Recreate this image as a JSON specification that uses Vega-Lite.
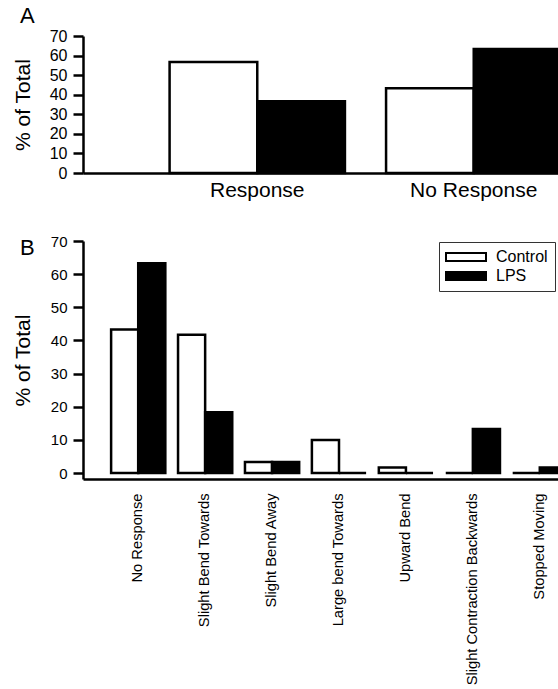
{
  "$schema": "https://vega.github.io/schema/vega-lite/v6.json",
  "background": "white",
  "padding": {"left": 12, "top": 5, "right": 0, "bottom": 0},
  "spacing": 34,
  "config": {
    "font": "Liberation Sans",
    "view": {"stroke": null},
    "axis": {
      "domainColor": "black",
      "domainWidth": 2.5,
      "tickColor": "black",
      "tickWidth": 2.5,
      "labelColor": "black",
      "titleColor": "black",
      "grid": false,
      "titleFontWeight": "normal"
    },
    "title": {"fontWeight": "normal", "color": "black"}
  },
  "resolve": {
    "scale": {"x": "independent", "xOffset": "independent", "y": "independent", "fill": "independent"},
    "axis": {"x": "independent", "y": "independent"},
    "legend": {"fill": "independent"}
  },
  "vconcat": [
    {
      "width": 565,
      "height": 137,
      "title": {"text": "A", "anchor": "start", "frame": "group", "dx": -63, "fontSize": 22, "offset": 0},
      "data": {
        "values": [
          {"outcome": "Response", "group": "Control", "pct": 56.7},
          {"outcome": "Response", "group": "LPS", "pct": 36.7},
          {"outcome": "No Response", "group": "Control", "pct": 43.3},
          {"outcome": "No Response", "group": "LPS", "pct": 63.3}
        ]
      },
      "mark": {"type": "bar", "stroke": "black", "strokeWidth": 2.5},
      "encoding": {
        "x": {
          "field": "outcome", "type": "nominal", "sort": ["Response", "No Response"],
          "scale": {"paddingInner": 0.19, "paddingOuter": 0.4},
          "axis": {"title": null, "labelAngle": 0, "ticks": false, "labelFontSize": 21, "labelPadding": 6}
        },
        "xOffset": {"field": "group", "type": "nominal", "sort": ["Control", "LPS"]},
        "y": {
          "field": "pct", "type": "quantitative",
          "scale": {"domain": [0, 70], "nice": false},
          "axis": {"values": [0, 10, 20, 30, 40, 50, 60, 70], "tickSize": 10, "labelFontSize": 16, "labelPadding": 6, "title": "% of Total", "titleFontSize": 21, "titleX": -50}
        },
        "fill": {
          "field": "group", "type": "nominal",
          "scale": {"domain": ["Control", "LPS"], "range": ["white", "black"]},
          "legend": null
        }
      }
    },
    {
      "width": 512,
      "height": 238,
      "title": {"text": "B", "anchor": "start", "frame": "group", "dx": -63, "dy": 26, "fontSize": 22, "offset": 0},
      "data": {
        "values": [
          {"behaviour": "No Response", "group": "Control", "pct": 43.3},
          {"behaviour": "No Response", "group": "LPS", "pct": 63.3},
          {"behaviour": "Slight Bend Towards", "group": "Control", "pct": 41.7},
          {"behaviour": "Slight Bend Towards", "group": "LPS", "pct": 18.3},
          {"behaviour": "Slight Bend Away", "group": "Control", "pct": 3.3},
          {"behaviour": "Slight Bend Away", "group": "LPS", "pct": 3.3},
          {"behaviour": "Large bend Towards", "group": "Control", "pct": 10.0},
          {"behaviour": "Large bend Towards", "group": "LPS", "pct": 0},
          {"behaviour": "Upward Bend", "group": "Control", "pct": 1.7},
          {"behaviour": "Upward Bend", "group": "LPS", "pct": 0},
          {"behaviour": "Slight Contraction Backwards", "group": "Control", "pct": 0},
          {"behaviour": "Slight Contraction Backwards", "group": "LPS", "pct": 13.3},
          {"behaviour": "Stopped Moving", "group": "Control", "pct": 0},
          {"behaviour": "Stopped Moving", "group": "LPS", "pct": 1.7}
        ]
      },
      "mark": {"type": "bar", "stroke": "black", "strokeWidth": 2.5},
      "encoding": {
        "x": {
          "field": "behaviour", "type": "nominal",
          "sort": ["No Response", "Slight Bend Towards", "Slight Bend Away", "Large bend Towards", "Upward Bend", "Slight Contraction Backwards", "Stopped Moving"],
          "scale": {"paddingInner": 0.19, "paddingOuter": 0.42},
          "axis": {"title": null, "labelAngle": 270, "labelAlign": "right", "labelBaseline": "middle", "ticks": false, "labelFontSize": 14.7, "labelPadding": 14, "labelLimit": 400}
        },
        "xOffset": {"field": "group", "type": "nominal", "sort": ["Control", "LPS"]},
        "y": {
          "field": "pct", "type": "quantitative",
          "scale": {"domain": [-1.8, 70], "nice": false, "zero": false},
          "axis": {"values": [0, 10, 20, 30, 40, 50, 60, 70], "tickSize": 10, "labelFontSize": 15, "labelPadding": 6, "title": "% of Total", "titleFontSize": 21, "titleX": -50}
        },
        "fill": {
          "field": "group", "type": "nominal",
          "scale": {"domain": ["Control", "LPS"], "range": ["white", "black"]},
          "legend": {
            "title": null, "orient": "none", "legendX": 356, "legendY": 1,
            "strokeColor": "#333", "padding": 7,
            "symbolType": "M-5,-1H5V1H-5Z", "symbolSize": 64,
            "symbolStrokeColor": "black", "symbolStrokeWidth": 2,
            "symbolOffset": 12, "labelOffset": 22,
            "labelFontSize": 16, "labelColor": "black", "rowPadding": 3
          }
        }
      }
    }
  ]
}
